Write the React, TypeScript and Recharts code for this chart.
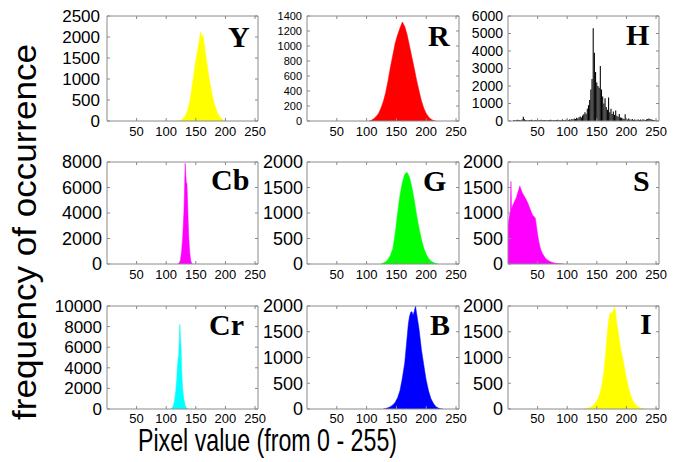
import React from "react";
import { ComposedChart, Area, Bar, XAxis, YAxis } from "recharts";

// x ticks shared by all nine histograms
const pixelTicks = [50, 100, 150, 200, 250];

// Y (luma)
const yBins = [120, 122, 124, 126, 128, 130, 132, 134, 136, 138, 140, 142, 144, 146, 148, 150, 152, 154, 156, 158, 160, 162, 164, 166, 168, 170, 172, 174, 176, 178, 180, 182, 184, 186, 188, 190, 192, 194, 196, 198, 200];
const yCounts = [0, 10, 20, 30, 50, 80, 120, 180, 260, 360, 480, 650, 850, 1050, 1250, 1450, 1600, 1750, 1950, 2120, 2000, 2050, 1850, 1650, 1450, 1250, 1050, 900, 750, 600, 480, 380, 290, 220, 160, 110, 75, 45, 25, 12, 0];

// R
const rBins = [104, 108, 112, 116, 120, 124, 128, 132, 136, 140, 144, 148, 152, 156, 160, 164, 168, 172, 176, 180, 184, 188, 192, 196, 200, 204, 208, 212, 216];
const rCounts = [0, 10, 30, 60, 100, 170, 260, 380, 540, 720, 880, 1040, 1150, 1240, 1320, 1260, 1150, 1000, 850, 700, 540, 400, 270, 170, 100, 55, 25, 8, 0];

// H (hue) - spiky, drawn as thin bars
const hBins = [10, 12, 14, 16, 18, 20, 22, 24, 26, 28, 30, 32, 34, 36, 38, 40, 42, 44, 46, 48, 50, 52, 54, 56, 58, 60, 62, 64, 66, 68, 70, 72, 74, 76, 78, 80, 82, 84, 86, 88, 90, 92, 94, 96, 98, 100, 102, 104, 106, 108, 110, 112, 114, 116, 118, 120, 122, 124, 126, 128, 130, 132, 134, 136, 138, 140, 142, 144, 146, 148, 150, 152, 154, 156, 158, 160, 162, 164, 166, 168, 170, 172, 174, 176, 178, 180, 182, 184, 186, 188, 190, 192, 194, 196, 198, 200, 202, 204, 206, 208, 210, 212, 214, 216, 218, 220, 222, 224, 226, 228, 230, 232, 234, 236, 238, 240, 242, 244, 246, 248, 250];
const hCounts = [60, 40, 50, 70, 40, 60, 50, 80, 250, 100, 60, 50, 40, 60, 50, 70, 40, 50, 60, 40, 50, 60, 40, 70, 50, 40, 60, 50, 40, 60, 50, 70, 40, 50, 60, 40, 50, 70, 50, 60, 40, 80, 50, 60, 70, 80, 60, 90, 70, 120, 90, 150, 110, 180, 140, 220, 260, 200, 320, 380, 500, 420, 700, 900, 1200, 1800, 2400, 5300, 3900, 2800, 2200, 2000, 1900, 3150, 1800, 1400, 1000, 1300, 800, 650, 1350, 500, 700, 400, 550, 350, 600, 300, 250, 400, 200, 180, 150, 120, 380, 100, 90, 140, 80, 70, 110, 60, 80, 50, 70, 90, 60, 80, 50, 100, 70, 60, 90, 120, 150, 110, 90, 70, 60, 50, 40];

// Cb
const cbBins = [120, 122, 124, 126, 128, 130, 131, 132, 133, 134, 135, 136, 137, 138, 139, 140, 141, 142, 144];
const cbCounts = [0, 100, 300, 1000, 2200, 4200, 6000, 7900, 7000, 6400, 6300, 5000, 3500, 2200, 1400, 800, 400, 150, 0];

// G
const gBins = [124, 128, 132, 136, 140, 144, 148, 152, 156, 160, 164, 168, 172, 176, 180, 184, 188, 192, 196, 200, 204, 208, 212, 216, 220];
const gCounts = [0, 20, 45, 90, 170, 300, 600, 1000, 1350, 1600, 1760, 1800, 1700, 1500, 1250, 950, 700, 480, 310, 190, 110, 60, 30, 10, 0];

// S (saturation)
const sBins = [0, 2, 4, 5, 6, 8, 10, 12, 14, 16, 18, 20, 22, 24, 26, 28, 30, 32, 34, 36, 38, 40, 42, 44, 46, 48, 50, 52, 54, 56, 58, 60, 62, 64, 66, 70, 75, 80, 85, 90, 95];
const sCounts = [750, 900, 1050, 1620, 1080, 1150, 1200, 1250, 1300, 1380, 1450, 1530, 1460, 1400, 1360, 1320, 1280, 1230, 1180, 1120, 1060, 1000, 950, 930, 900, 750, 580, 440, 340, 260, 210, 170, 135, 105, 85, 55, 30, 15, 8, 3, 0];

// Cr
const crBins = [108, 110, 112, 114, 116, 118, 119, 120, 121, 122, 123, 124, 125, 126, 127, 128, 130, 132, 134, 136, 138];
const crCounts = [0, 100, 300, 800, 1700, 3000, 4200, 4800, 5200, 6500, 8200, 7000, 6000, 4000, 2700, 1800, 900, 350, 120, 30, 0];

// B
const bBins = [128, 132, 136, 140, 144, 148, 152, 156, 160, 164, 166, 168, 170, 172, 174, 176, 178, 180, 182, 184, 186, 188, 190, 192, 194, 196, 198, 200, 204, 208, 212, 216, 220, 224, 228];
const bCounts = [0, 10, 25, 45, 80, 130, 220, 360, 600, 900, 1150, 1400, 1650, 1800, 1880, 1890, 1820, 1900, 2000, 1850, 1700, 1550, 1350, 1150, 1000, 850, 700, 560, 350, 200, 110, 50, 20, 5, 0];

// I (intensity)
const iBins = [128, 132, 136, 140, 144, 148, 152, 156, 160, 164, 166, 168, 170, 172, 174, 176, 178, 180, 182, 184, 186, 188, 190, 192, 194, 196, 198, 200, 204, 208, 212, 216, 220, 224, 228, 232];
const iCounts = [0, 10, 20, 40, 70, 120, 200, 330, 550, 950, 1250, 1500, 1720, 1850, 1880, 1850, 1920, 1980, 1850, 1650, 1500, 1350, 1200, 1080, 980, 850, 720, 600, 400, 240, 140, 80, 40, 20, 8, 0];

// y ticks
const ticks2500 = [0, 500, 1000, 1500, 2000, 2500];
const ticks1400 = [0, 200, 400, 600, 800, 1000, 1200, 1400];
const ticks6000 = [0, 1000, 2000, 3000, 4000, 5000, 6000];
const ticks8000 = [0, 2000, 4000, 6000, 8000];
const ticks2000 = [0, 500, 1000, 1500, 2000];
const ticks10000 = [0, 2000, 4000, 6000, 8000, 10000];

const AXIS_GRAY = "#8a8a8a";
const SANS = '"Liberation Sans", Arial, sans-serif';
const SERIF = '"Liberation Serif", "Times New Roman", serif';

const Y_W = 60;
const X_H = 30;
const M_TOP = 8;
const M_RIGHT = 16;

type PanelProps = {
  bins: number[];
  counts: number[];
  color: string;
  yMax: number;
  yTicks: number[];
  left: number;
  top: number;
  width: number;
  height: number;
  yFont: number;
  yGap?: number;
  xGap?: number;
  bars?: boolean;
};

const noTick = () => <g />;

function Panel(p: PanelProps) {
  const data = p.bins.map((b, i) => ({ bin: b, count: p.counts[i] }));
  const chartW = Y_W + p.width + 1 + M_RIGHT;
  const chartH = M_TOP + 1 + p.height + X_H;
  return (
    <div style={{ position: "absolute", left: p.left - Y_W, top: p.top - M_TOP - 1 }}>
      <ComposedChart
        width={chartW}
        height={chartH}
        data={data}
        margin={{ top: M_TOP, right: M_RIGHT, bottom: 0, left: 0 }}
      >
        <XAxis
          dataKey="bin"
          type="number"
          domain={[0, 255]}
          ticks={pixelTicks}
          allowDataOverflow
          interval={0}
          height={X_H}
          tickSize={-3}
          tickMargin={p.xGap ?? 9}
          stroke={AXIS_GRAY}
          tick={{ fontSize: 13, fill: "#000", fontFamily: SANS }}
        />
        <XAxis
          xAxisId="top"
          orientation="top"
          dataKey="bin"
          type="number"
          domain={[0, 255]}
          ticks={pixelTicks}
          allowDataOverflow
          interval={0}
          height={1}
          tickSize={-3}
          stroke={AXIS_GRAY}
          tick={noTick}
        />
        <YAxis
          type="number"
          domain={[0, p.yMax]}
          ticks={p.yTicks}
          allowDataOverflow
          interval={0}
          width={Y_W}
          tickSize={-3}
          tickMargin={p.yGap ?? 8}
          stroke={AXIS_GRAY}
          tick={{ fontSize: p.yFont, fill: "#000", fontFamily: SANS }}
        />
        <YAxis
          yAxisId="right"
          orientation="right"
          type="number"
          domain={[0, p.yMax]}
          ticks={p.yTicks}
          allowDataOverflow
          interval={0}
          width={1}
          tickSize={-3}
          stroke={AXIS_GRAY}
          tick={noTick}
        />
        {p.bars ? (
          <Bar dataKey="count" fill={p.color} barSize={1.5} isAnimationActive={false} />
        ) : (
          <Area
            type="linear"
            dataKey="count"
            stroke={p.color}
            strokeWidth={0.5}
            fill={p.color}
            fillOpacity={1}
            dot={false}
            activeDot={false}
            isAnimationActive={false}
          />
        )}
      </ComposedChart>
    </div>
  );
}

const letters = [
  { t: "Y", x: 228, y: 47 },
  { t: "R", x: 428, y: 46 },
  { t: "H", x: 626, y: 45 },
  { t: "Cb", x: 211, y: 190 },
  { t: "G", x: 423, y: 191 },
  { t: "S", x: 633, y: 191 },
  { t: "Cr", x: 209, y: 335 },
  { t: "B", x: 430, y: 335 },
  { t: "I", x: 640, y: 334 },
];

export default function App() {
  return (
    <div style={{ position: "absolute", left: 0, top: 0, width: 686, height: 462, background: "#fff", overflow: "hidden" }}>
      <Panel bins={yBins} counts={yCounts} color="#ffff00" yMax={2500} yTicks={ticks2500} left={107} top={16} width={151} height={105} yFont={17} yGap={10} />
      <Panel bins={rBins} counts={rCounts} color="#ff0000" yMax={1400} yTicks={ticks1400} left={307} top={16} width={152} height={105} yFont={11} />
      <Panel bins={hBins} counts={hCounts} color="#000000" yMax={6000} yTicks={ticks6000} left={508} top={16} width={151} height={105} yFont={14} bars />

      <Panel bins={cbBins} counts={cbCounts} color="#ff00ff" yMax={8000} yTicks={ticks8000} left={107} top={162} width={151} height={102} yFont={18} />
      <Panel bins={gBins} counts={gCounts} color="#00ff00" yMax={2000} yTicks={ticks2000} left={307} top={162} width={152} height={102} yFont={18} yGap={7} />
      <Panel bins={sBins} counts={sCounts} color="#ff00ff" yMax={2000} yTicks={ticks2000} left={508} top={162} width={151} height={102} yFont={18} />

      <Panel bins={crBins} counts={crCounts} color="#00ffff" yMax={10000} yTicks={ticks10000} left={107} top={306} width={151} height={103} yFont={17} xGap={8} />
      <Panel bins={bBins} counts={bCounts} color="#0000ff" yMax={2000} yTicks={ticks2000} left={307} top={306} width={152} height={103} yFont={18} yGap={7} xGap={8} />
      <Panel bins={iBins} counts={iCounts} color="#ffff00" yMax={2000} yTicks={ticks2000} left={508} top={306} width={151} height={103} yFont={18} xGap={8} />

      <svg width={686} height={462} style={{ position: "absolute", left: 0, top: 0, pointerEvents: "none" }}>
        {letters.map((l) => (
          <text key={l.t} x={l.x} y={l.y} fontFamily={SERIF} fontWeight="bold" fontSize={30} fill="#000">
            {l.t}
          </text>
        ))}
        <text
          x={36}
          y={232}
          transform="rotate(-90 36 232)"
          fontFamily={SANS}
          fontSize={33}
          fill="#000"
          textAnchor="middle"
          textLength={376}
          lengthAdjust="spacingAndGlyphs"
        >
          frequency of occurrence
        </text>
        <text x={138} y={451} fontFamily={SANS} fontSize={32} fill="#000" textLength={259} lengthAdjust="spacingAndGlyphs">
          Pixel value (from 0 - 255)
        </text>
      </svg>
    </div>
  );
}
